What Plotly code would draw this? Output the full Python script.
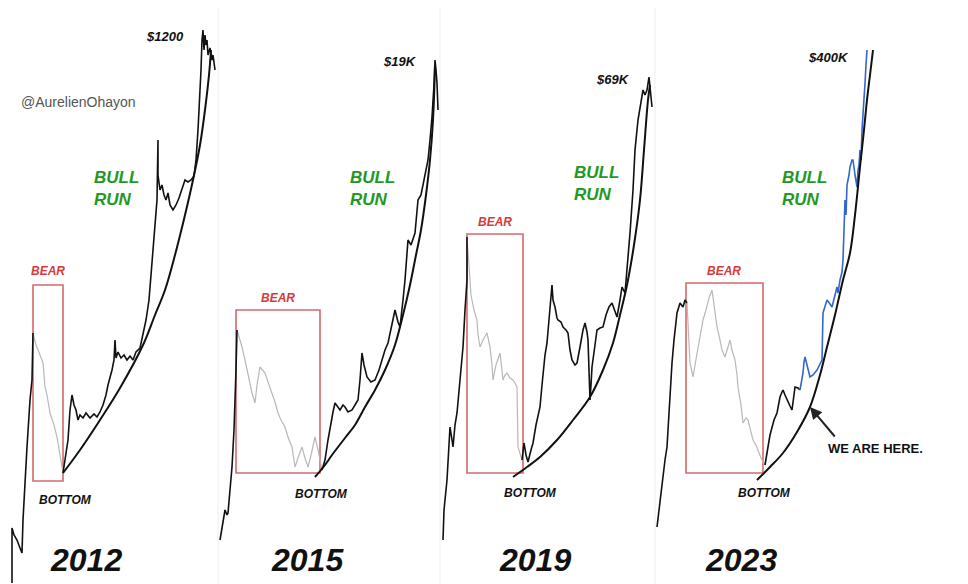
import plotly.graph_objects as go

# ---------------- data (chart units: x = time position, y = level) -------------
panel_edges = [0, 218, 440, 655, 968]
years = ["2012", "2015", "2019", "2023"]
peak_labels = ["$1200", "$19K", "$69K", "$400K"]

# 2012 cycle
p1_pre = [(12,583),(12,528),(14,535),(17,540),(20,548),(22,553),(23,520),(25,480),(27,447),(30,400),(32,380),(33,333)]
p1_bear = [(33,333),(36,345),(40,355),(43,363),(45,387),(47,395),(50,413),(54,425),(57,437),(60,455),(63,473)]
p1_bull = [(63,473),(66,455),(68,440),(70,410),(72,395),(74,405),(76,410),(78,420),(80,415),(83,418),(86,413),(90,418),
           (94,414),(97,417),(100,412),(103,405),(106,395),(108,385),(110,378),(112,370),(114,360),(115,340),(116,358),
           (118,352),(121,358),(124,355),(127,360),(130,356),(133,360),(136,352),(140,348),(143,335),(146,320),(149,300),
           (151,275),(153,255),(155,225),(157,200),(158,140),(158,175),(160,190),(162,185),(164,195),(166,200),(168,193),
           (170,205),(173,210),(176,205),(179,198),(182,190),(185,180),(188,182),(191,180),(194,176),(196,160),(198,130),
           (200,95),(201,70),(202,40),(203,30),(204,50),(205,35),(206,45),(207,40),(208,55),(210,48),(212,60),(213,55),(215,70)]
p1_curve = [(63,473),(80,450),(100,420),(120,388),(143,345),(155,315),(165,290),(175,255),(185,215),(193,180),
            (200,145),(205,110),(209,75),(211,50)]

# 2015 cycle
p2_pre = [(220,540),(223,520),(225,510),(227,515),(228,513),(230,490),(232,467),(234,430),(235,407),(236,370),(237,330)]
p2_bear = [(237,330),(240,340),(242,347),(245,360),(248,373),(250,385),(252,393),(255,403),(257,385),(260,367),(263,370),
           (265,373),(268,382),(272,393),(275,402),(278,413),(281,420),(285,427),(288,437),(292,447),(295,467),(298,458),
           (302,447),(305,458),(308,467),(311,455),(315,437),(318,450),(320,460),(322,470)]
p2_bull = [(322,470),(325,460),(328,440),(330,427),(333,412),(335,403),(338,408),(340,410),(343,405),(345,407),(348,412),
           (352,410),(355,405),(358,400),(360,380),(362,353),(364,365),(367,377),(371,382),(375,380),(379,370),(382,360),
           (385,350),(388,343),(391,330),(395,310),(398,322),(400,327),(403,300),(405,280),(408,240),(411,245),(415,233),
           (418,200),(421,195),(425,175),(428,160),(430,140),(432,117),(434,85),(435,60),(436,70),(437,83),(438,110)]
p2_curve = [(315,477),(325,465),(332,455),(345,438),(355,425),(365,407),(375,390),(385,370),(395,345),(403,315),
            (410,285),(416,255),(421,230),(426,195),(430,160),(433,120),(435,67)]

# 2019 cycle
p3_pre = [(443,540),(444,510),(447,480),(449,440),(450,427),(452,440),(453,447),(455,425),(457,413),(460,380),(462,355),
          (463,347),(465,310),(467,280),(467,237)]
p3_bear = [(467,237),(469,270),(471,295),(472,300),(474,310),(477,320),(478,335),(480,347),(483,340),(487,333),(490,347),
           (492,365),(493,380),(496,365),(500,353),(502,370),(503,380),(505,375),(507,373),(510,378),(513,380),(515,383),
           (517,387),(518,447),(520,455),(522,460)]
p3_bull = [(522,460),(524,443),(526,455),(528,462),(531,450),(533,443),(536,425),(540,407),(542,385),(543,373),(545,355),
           (547,343),(549,320),(550,310),(552,285),(553,300),(555,307),(557,318),(558,320),(561,322),(563,327),(566,330),
           (568,333),(570,350),(572,360),(575,365),(577,363),(580,347),(583,330),(585,323),(587,332),(588,340),(589,375),
           (590,400),(591,385),(592,367),(595,345),(597,330),(600,328),(603,327),(606,315),(609,307),(612,303),(615,312),
           (617,317),(620,300),(622,287),(625,293),(628,260),(630,233),(633,190),(635,150),(638,120),(640,107),(643,90),
           (645,95),(647,90),(649,77),(651,95),(652,107)]
p3_curve = [(513,477),(527,467),(540,457),(557,440),(573,420),(590,397),(603,370),(613,343),(620,315),(627,285),
            (634,245),(640,200),(644,150),(648,100),(650,85)]

# 2023 cycle
p4_pre = [(657,527),(659,510),(660,497),(663,475),(665,460),(667,447),(669,410),(670,390),(672,363),(674,340),(677,313),
          (680,303),(683,307),(685,300),(687,303)]
p4_bear = [(687,303),(689,340),(690,363),(692,372),(693,377),(695,365),(698,347),(700,335),(703,320),(706,310),(709,298),
           (712,290),(714,305),(717,327),(720,340),(722,350),(725,357),(728,348),(730,340),(732,350),(735,360),(737,375),
           (738,387),(741,405),(743,423),(746,418),(748,420),(751,432),(753,440),(756,445),(758,450),(761,458),(765,465)]
p4_bull = [(765,465),(767,455),(768,447),(770,435),(772,427),(774,420),(777,413),(779,402),(780,397),(782,392),(783,390),
           (785,395),(787,400),(790,406),(792,410),(794,396),(795,387),(798,388),(800,390)]
p4_proj = [(800,390),(802,380),(803,373),(804,362),(805,357),(807,365),(810,377),(813,375),(817,370),(820,364),(822,360),
           (823,313),(825,305),(827,300),(830,304),(832,307),(835,295),(837,287),(838,293),(840,280),(842,272),(843,260),
           (844,230),(845,200),(846,215),(847,185),(849,175),(850,167),(852,160),(853,160),(855,175),(857,187),(858,170),
           (859,165),(860,150),(861,160),(862,130),(863,117),(864,100),(865,83),(866,65),(867,50)]
p4_curve = [(757,480),(770,467),(783,453),(797,432),(810,407),(820,375),(827,347),(835,315),(843,280),(850,253),
            (855,215),(860,167),(864,130),(867,100),(870,75),(873,50)]

# bear boxes: (start, end, top, bottom)
bear_boxes = [(33,63,285,481),(236,320,310,473),(467,523,234,473),(686,763,283,473)]
bear_label_pos = [(48,271),(278,298),(495,222),(724,271)]
bottom_label_pos = [(65,500),(321,494),(530,493),(764,493)]
bull_label_pos = [(116,188),(372,188),(596,183),(804,188)]
peak_label_pos = [(165,36),(400,61),(613,79),(828,57)]
year_label_pos = [(86,560),(307,560),(535,560),(741,560)]
arrow_head = (810,407)
arrow_tail = (836,438)
here_label_pos = (875,448)

# ---------------- figure -------------
# the page body adds an 8px offset, so the plot is 960x576 and axes are shifted accordingly
OFF = 8
FW, FH = 968 - OFF, 584 - OFF
FONT = "Liberation Sans"

fig = go.Figure()
pre = [p1_pre, p2_pre, p3_pre, p4_pre]
bear = [p1_bear, p2_bear, p3_bear, p4_bear]
bull = [p1_bull, p2_bull, p3_bull, p4_bull]
curves = [p1_curve, p2_curve, p3_curve, p4_curve]

def xs(pts): return [p[0] for p in pts]
def ys(pts): return [p[1] for p in pts]

layout_axes = {}
shapes = []
annotations = []
for i in range(4):
    ax = "" if i == 0 else str(i + 1)
    xa, ya = "x" + ax, "y" + ax
    d0 = max(panel_edges[i] - OFF, 0)
    d1 = min(panel_edges[i + 1] - OFF, FW)
    layout_axes["xaxis" + ax] = dict(domain=[d0 / FW, d1 / FW],
                                     range=[d0 + OFF, d1 + OFF], visible=False,
                                     anchor=ya, fixedrange=True)
    layout_axes["yaxis" + ax] = dict(domain=[0, 1], range=[584, OFF], visible=False, anchor=xa, fixedrange=True)

    fig.add_trace(go.Scatter(x=xs(bear[i]), y=ys(bear[i]), mode="lines", xaxis=xa, yaxis=ya,
                             line=dict(color="#b8b8b8", width=1.2), hoverinfo="skip", showlegend=False))
    fig.add_trace(go.Scatter(x=xs(pre[i]), y=ys(pre[i]), mode="lines", xaxis=xa, yaxis=ya,
                             line=dict(color="#111111", width=1.6), hoverinfo="skip", showlegend=False))
    fig.add_trace(go.Scatter(x=xs(bull[i]), y=ys(bull[i]), mode="lines", xaxis=xa, yaxis=ya,
                             line=dict(color="#111111", width=1.6), hoverinfo="skip", showlegend=False))
    if i == 3:
        fig.add_trace(go.Scatter(x=xs(p4_proj), y=ys(p4_proj), mode="lines", xaxis=xa, yaxis=ya,
                                 line=dict(color="#3466cc", width=1.6), hoverinfo="skip", showlegend=False))
    fig.add_trace(go.Scatter(x=xs(curves[i]), y=ys(curves[i]), mode="lines", xaxis=xa, yaxis=ya,
                             line=dict(color="#111111", width=2, shape="spline", smoothing=1.0),
                             hoverinfo="skip", showlegend=False))

    b = bear_boxes[i]
    shapes.append(dict(type="rect", xref=xa, yref=ya, x0=b[0], x1=b[1], y0=b[2], y1=b[3],
                       line=dict(color="#d46a6a", width=1.6), fillcolor="rgba(0,0,0,0)", layer="below"))

    annotations.append(dict(xref=xa, yref=ya, x=bear_label_pos[i][0], y=bear_label_pos[i][1],
                            text="<b><i>BEAR</i></b>", showarrow=False,
                            font=dict(family=FONT, size=12, color="#d63b3b")))
    annotations.append(dict(xref=xa, yref=ya, x=bottom_label_pos[i][0], y=bottom_label_pos[i][1],
                            text="<b><i>BOTTOM</i></b>", showarrow=False,
                            font=dict(family=FONT, size=12, color="#111111")))
    annotations.append(dict(xref=xa, yref=ya, x=bull_label_pos[i][0], y=bull_label_pos[i][1],
                            text="<b><i>BULL<br>RUN</i></b>", showarrow=False, align="left",
                            font=dict(family=FONT, size=17, color="#229922")))
    annotations.append(dict(xref=xa, yref=ya, x=peak_label_pos[i][0], y=peak_label_pos[i][1],
                            text="<b><i>" + peak_labels[i] + "</i></b>", showarrow=False,
                            font=dict(family=FONT, size=13, color="#111111")))
    annotations.append(dict(xref=xa, yref=ya, x=year_label_pos[i][0], y=year_label_pos[i][1],
                            text="<b><i>" + years[i] + "</i></b>", showarrow=False,
                            font=dict(family=FONT, size=32, color="#111111")))

annotations.append(dict(xref="x", yref="y", x=78, y=102, text="@AurelienOhayon", showarrow=False,
                        font=dict(family=FONT, size=14, color="#555555")))
annotations.append(dict(xref="x4", yref="y4", x=arrow_head[0], y=arrow_head[1],
                        ax=arrow_tail[0], ay=arrow_tail[1], axref="x4", ayref="y4",
                        text="", showarrow=True, arrowhead=2, arrowsize=1.2, arrowwidth=2, arrowcolor="#222222"))
annotations.append(dict(xref="x4", yref="y4", x=here_label_pos[0], y=here_label_pos[1],
                        text="<b>WE ARE HERE.</b>", showarrow=False,
                        font=dict(family=FONT, size=13, color="#111111")))

for e in panel_edges[1:-1]:
    shapes.append(dict(type="line", xref="paper", yref="paper", x0=(e - OFF) / FW, x1=(e - OFF) / FW, y0=0, y1=1,
                       line=dict(color="#eeeeee", width=1)))

fig.update_layout(width=FW, height=FH, margin=dict(l=0, r=0, t=0, b=0),
                  paper_bgcolor="white", plot_bgcolor="white",
                  shapes=shapes, annotations=annotations, **layout_axes)

fig.write_html("out.html")
